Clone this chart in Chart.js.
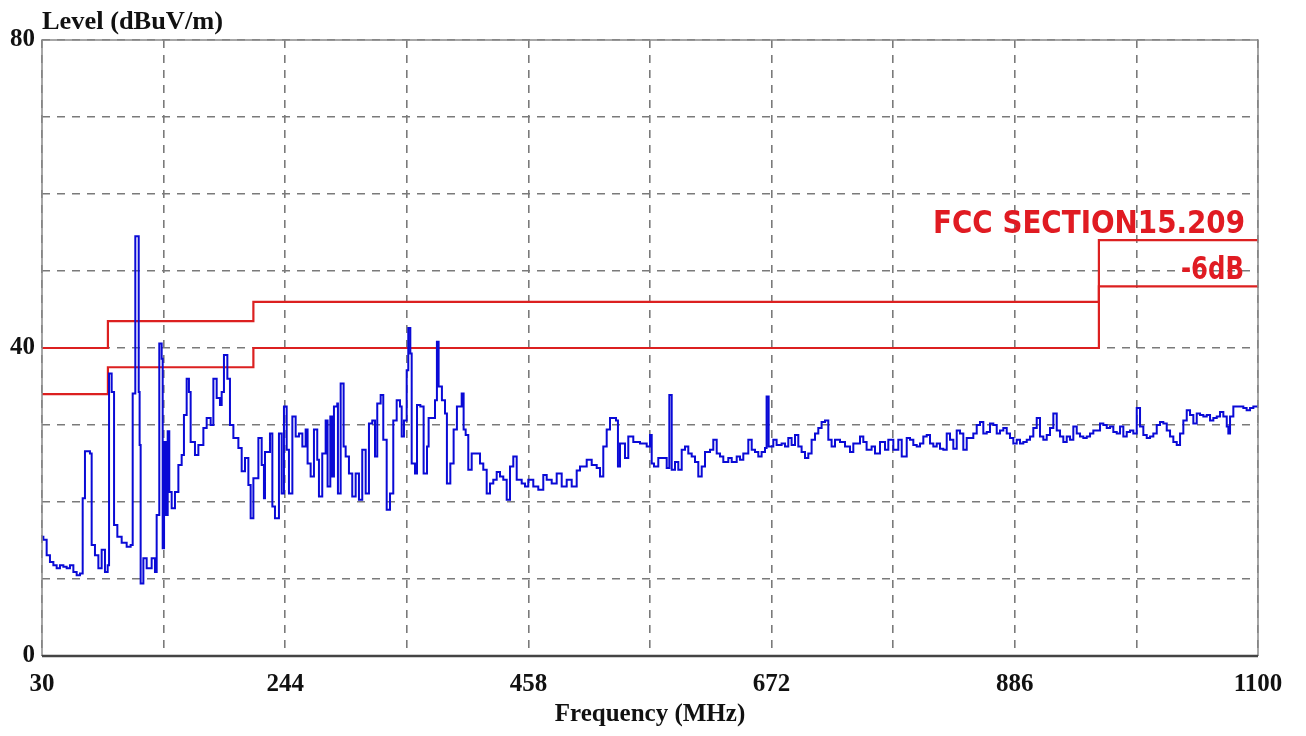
<!DOCTYPE html>
<html>
<head>
<meta charset="utf-8">
<script src="https://cdn.jsdelivr.net/npm/chart.js@4/dist/chart.umd.min.js"></script>
<style>
  html, body { margin: 0; padding: 0; background: #fff; }
  canvas { display: block; }
</style>
</head>
<body>
<canvas id="emc" width="1306" height="736"></canvas>
<script>
// measured trace, MHz / dBuV/m
var freqs = [
  30, 31.2, 34.1, 37.0, 40.0, 42.9, 45.8, 48.8, 51.7, 54.6, 57.6, 60.5, 63.4, 65.8, 67.8, 72.2,
  73.7, 76.6, 79.6, 82.5, 85.4, 87.8, 89.0, 91.3, 93.4, 96.3, 100.1, 104.5, 108.0, 109.8, 112.1,
  115.1, 115.9, 116.8, 119.2, 122.1, 126.5, 129.4, 130.9, 133.2, 135.3, 136.2, 137.4, 139.1, 140.6,
  142.0, 144.1, 147.0, 150.0, 152.9, 154.9, 157.3, 159.3, 160.8, 164.6, 167.6, 172.0, 174.9, 178.4,
  180.8, 183.7, 186.6, 188.1, 190.1, 193.1, 195.4, 198.4, 202.8, 205.7, 208.6, 211.6, 213.6, 216.0,
  220.4, 223.3, 225.3,
  226.2, 230.6, 232.7, 235.0, 238.5, 240.9, 242.9, 245.3, 247.3, 250.3, 253.2, 256.1, 259.1, 262.0,
  263.7, 266.4, 269.3, 272.2, 273.7, 276.6, 279.6, 281.3, 283.7, 285.4, 286.9, 289.8, 290.4, 292.8,
  295.4, 297.2, 300.1, 303.0, 306.0, 308.9, 311.8, 314.8, 317.7, 320.6, 323.0, 325.0, 328.0, 330.3,
  333.3, 336.2, 339.1, 342.1, 345.0, 346.5, 348.5, 350.9, 352.3, 354.1, 355.3, 358.2, 360.0, 362.9,
  365.8, 368.8, 370.2, 373.2, 375.8, 377.5, 379.0, 381.9, 384.6, 386.3, 389.3, 392.2, 395.1, 399.3,
  401.0, 402.8, 405.1, 408.1, 412.5, 415.4, 418.3, 421.3, 424.2, 427.1, 430.1, 433.0, 435.9, 438.9,
  441.8, 444.7,
  447.7, 452.1, 455.0, 457.9, 462.3, 466.7, 471.1, 474.1, 478.5, 482.9, 487.3, 491.7, 496.1, 500.5,
  503.4, 509.3, 513.7, 518.1, 521.0, 523.9, 526.9, 529.8, 535.1, 536.8, 538.6, 543.0, 545.9, 550.3,
  556.2, 562.1, 565.0, 566.5, 568.5, 572.3, 576.7, 579.7, 582.0, 584.1, 587.0, 589.9, 592.9, 595.8,
  598.7, 601.7, 604.6, 607.5, 610.5, 613.4, 617.8, 620.7, 623.7, 626.6, 629.5, 633.9, 636.9, 641.3,
  644.2, 647.1, 651.5, 654.5, 657.4, 660.3, 663.2, 666.2, 667.6, 669.4, 673.5, 676.4, 680.8, 683.8,
  686.7, 689.6, 692.6, 695.5, 698.4, 701.4, 704.3, 707.2, 710.2, 713.1, 716.0, 719.0, 721.9, 724.8,
  727.8, 732.2, 736.6, 741.0, 743.9, 749.8, 752.7, 755.6, 760.0, 763.0, 767.4, 771.8, 774.7,
  779.1, 783.5, 786.5, 790.9, 793.8, 796.7, 799.7, 802.6, 805.5, 808.5, 811.4, 814.3, 817.3, 820.2,
  823.1, 826.1, 829.0, 831.9, 834.9, 837.8, 840.7, 843.7, 846.6, 849.5, 852.5, 855.4, 858.3, 861.3,
  864.2, 867.1, 870.1, 873.0, 875.9, 878.9, 881.8, 884.7, 887.7, 890.6, 893.5, 896.5, 899.4, 902.3,
  905.3, 908.2, 911.1, 914.1, 917.0, 919.9, 922.9, 925.8, 928.7, 931.7, 934.6, 937.5, 940.5, 943.4,
  946.3, 949.3, 952.2, 955.1, 958.1, 961.0, 963.9, 966.9, 969.8, 972.7, 975.7, 978.6, 981.5, 984.5,
  987.4, 990.3, 993.3, 996.2, 999.1, 1002.1, 1005.0, 1007.9, 1010.9, 1013.8, 1016.7, 1019.7, 1022.6,
  1025.5, 1028.5, 1031.4, 1034.3, 1037.3, 1040.2, 1043.1, 1046.1, 1049.0, 1051.9, 1054.9, 1057.8,
  1060.7, 1063.7, 1066.6, 1069.5, 1072.5, 1073.9, 1075.4, 1078.3, 1081.2, 1084.2, 1087.1, 1090.0,
  1093.0, 1095.9, 1100
];
var levels = [
  15.5, 15.1, 13.1, 12.2, 11.8, 11.4, 11.8, 11.6, 11.4, 11.8, 10.9, 10.5, 10.7, 20.5, 26.6, 26.3,
  14.4, 13.1, 11.4, 13.8, 10.9, 11.8, 36.7, 34.3, 17.0, 15.5, 14.7, 14.2, 14.4, 34.1, 54.5,
  34.3, 27.4, 9.4, 12.7, 11.4, 12.7, 10.9, 18.3, 40.6, 38.6, 14.0, 27.8, 18.3, 29.2,
  21.3, 19.2, 21.3, 24.8, 26.1, 31.3, 36.0, 34.3, 27.8, 26.1, 27.4, 29.6, 30.9, 30.0,
  36.0, 33.5, 32.6, 34.3, 39.1, 36.0, 30.0, 28.3, 27.0, 24.0, 25.7, 22.2, 17.9, 23.1,
  28.3, 24.8, 20.5,
  26.5, 28.9, 19.4, 17.9, 28.9, 21.1, 32.4, 26.8, 21.1, 31.1, 28.5, 28.9, 27.2, 29.4,
  25.0, 23.3, 29.4, 25.5, 20.7, 26.3, 30.6, 22.0, 31.1, 23.3, 32.4, 32.8, 21.1, 35.4,
  27.2, 25.9, 23.7, 20.7, 23.7, 20.3, 26.8, 21.1, 30.2, 30.6, 25.9, 32.8, 33.9, 28.1,
  19.0, 21.1, 30.6, 33.2, 32.4, 28.5, 30.6, 37.1, 42.6, 39.3, 25.0, 23.7, 32.6, 32.4,
  23.7, 27.2, 30.9, 30.9, 33.2, 40.8, 35.0, 33.2, 31.5, 22.4, 25.0, 29.4, 32.4, 34.1,
  29.4, 28.7, 24.2, 26.3, 26.3, 25.0, 24.2, 21.1, 22.4, 22.9, 23.9, 23.3, 22.9, 20.3,
  24.6, 25.9,
  22.9, 22.4, 22.0, 22.9, 22.0, 21.6, 23.5, 22.9, 22.4, 23.7, 22.0, 22.9, 22.0, 24.1,
  24.6, 25.5, 24.8, 24.4, 23.3, 27.2, 29.4, 30.9, 30.6, 24.6, 27.6, 25.7, 28.5, 27.8,
  27.6, 27.2, 28.7, 25.0, 24.6, 25.7, 25.7, 24.4, 33.9, 24.2, 25.2, 24.2, 26.8, 27.2,
  26.3, 25.9, 25.2, 23.3, 24.6, 26.5, 26.8, 28.1, 26.3, 25.9, 25.2, 25.7, 25.2, 25.9,
  25.5, 26.3, 28.1, 26.8, 26.5, 25.9, 26.5, 27.0, 33.7, 27.2, 28.1, 27.4, 27.6, 27.2,
  28.3, 27.4, 28.7, 27.2, 26.5, 25.7, 26.3, 28.1, 28.9, 29.6, 30.4, 30.6, 28.1, 27.2,
  28.1, 27.8, 27.2, 26.5, 27.6, 28.5, 27.8, 26.8, 27.2, 26.3, 27.8, 26.8, 28.1,
  26.8, 28.1, 25.9, 28.3, 28.1, 27.4, 27.2, 27.6, 28.5, 28.7, 27.6, 27.2, 27.6, 26.9,
  26.8, 28.9, 28.1, 26.9, 29.3, 28.9, 26.8, 28.3, 28.3, 28.9, 30.0, 30.4, 28.9, 29.1,
  30.2, 30.0, 28.9, 29.3, 29.6, 28.9, 28.3, 27.6, 28.1, 27.6, 27.8, 28.1, 28.5, 29.6,
  30.9, 28.5, 28.1, 28.7, 29.6, 31.5, 29.3, 28.5, 27.8, 28.5, 28.1, 29.8, 28.9, 28.5,
  28.3, 28.5, 28.9, 29.3, 29.3, 30.2, 30.0, 29.6, 29.8, 29.1, 28.9, 29.8, 28.5, 29.1,
  29.3, 28.9, 32.2, 29.8, 28.7, 28.3, 28.5, 28.9, 30.0, 30.4, 30.2, 29.3, 28.5,
  27.8, 27.4, 28.9, 30.6, 31.9, 31.3, 30.2, 31.5, 31.3, 31.1, 31.3, 30.6,
  30.9, 31.1, 31.7, 31.1, 29.8, 28.9, 31.1, 32.4, 32.4, 32.4, 32.2, 31.9,
  32.2, 32.4, 32.6
];

// FCC 15.209 limit and the -6dB line (step edges)
var limitFreqs = [30, 88, 216, 960, 1100];
var fccLimit = [40, 43.5, 46, 54, 54];
var marginLimit = [34, 37.5, 40, 48, 48];

var xLabelTicks = [30, 244, 458, 672, 886, 1100];
var yLabelTicks = [0, 40, 80];

function pts(xs, ys) {
  return xs.map(function(x, i) { return { x: x, y: ys[i] }; });
}

var serif = '"Liberation Serif", "Times New Roman", serif';
var narrow = '"Liberation Sans Narrow", "DejaVu Sans Condensed", "Arial Narrow", sans-serif';

var frame = {
  id: 'frame',
  afterDatasetsDraw: function(chart) {
    var a = chart.chartArea, c = chart.ctx;
    c.save();
    c.strokeStyle = '#8a8a8a';
    c.lineWidth = 1.5;
    c.beginPath();
    c.moveTo(a.left, a.bottom);
    c.lineTo(a.left, a.top);
    c.lineTo(a.right, a.top);
    c.lineTo(a.right, a.bottom);
    c.stroke();
    c.strokeStyle = '#444';
    c.lineWidth = 2.5;
    c.beginPath();
    c.moveTo(a.left, a.bottom);
    c.lineTo(a.right, a.bottom);
    c.stroke();
    c.restore();
  },
  afterDraw: function(chart) {
    var c = chart.ctx;
    c.save();
    c.fillStyle = '#111';
    c.font = 'bold 25px ' + serif;
    c.textBaseline = 'alphabetic';
    fitText(c, 'Level (dBuV/m)', 223, 29, 181);

    // red limit captions, fitted to their width in the picture
    c.fillStyle = '#e01b22';
    c.font = 'bold 32px ' + narrow;
    fitText(c, 'FCC SECTION15.209', 1245, 233, 312);
    fitText(c, '-6dB', 1244, 279, 63);
    c.restore();
  }
};

function fitText(c, txt, right, base, w) {
  var m = c.measureText(txt).width;
  c.save();
  c.translate(right - w, base);
  c.scale(w / m, 1);
  c.fillText(txt, 0, 0);
  c.restore();
}

new Chart(document.getElementById('emc'), {
  type: 'line',
  data: {
    datasets: [
      {
        data: pts(freqs, levels),
        borderColor: '#0a0ad6',
        borderWidth: 2,
        pointRadius: 0,
        stepped: 'before',
        fill: false
      },
      {
        data: pts(limitFreqs, fccLimit),
        borderColor: '#dc2020',
        borderWidth: 2.2,
        pointRadius: 0,
        stepped: 'before'
      },
      {
        data: pts(limitFreqs, marginLimit),
        borderColor: '#dc2020',
        borderWidth: 2.2,
        pointRadius: 0,
        stepped: 'before'
      }
    ]
  },
  options: {
    responsive: false,
    animation: false,
    devicePixelRatio: 1,
    layout: { padding: { top: 40, right: 48, left: 0, bottom: 0 } },
    plugins: { legend: { display: false }, tooltip: { enabled: false } },
    scales: {
      x: {
        type: 'linear',
        min: 30,
        max: 1100,
        afterFit: function(s) { s.height = 80; },
        afterBuildTicks: function(s) {
          var t = [];
          for (var v = 30; v <= 1100; v += 107) t.push({ value: v });
          s.ticks = t;
        },
        ticks: {
          autoSkip: false,
          maxRotation: 0,
          padding: 14,
          color: '#111',
          font: { family: serif, size: 25, weight: 'bold' },
          callback: function(v) { return xLabelTicks.indexOf(v) >= 0 ? String(v) : ''; }
        },
        grid: { color: '#7a7a7a', lineWidth: 1.6, drawTicks: false },
        border: { display: false, dash: [8, 7] },
        title: {
          display: true,
          text: 'Frequency (MHz)',
          color: '#111',
          font: { family: serif, size: 25, weight: 'bold' },
          padding: { top: 0, bottom: 6 }
        }
      },
      y: {
        min: 0,
        max: 80,
        afterFit: function(s) { s.width = 42; },
        ticks: {
          stepSize: 10,
          padding: 7,
          color: '#111',
          font: { family: serif, size: 25, weight: 'bold' },
          callback: function(v) { return yLabelTicks.indexOf(v) >= 0 ? String(v) : ''; }
        },
        grid: { color: '#7a7a7a', lineWidth: 1.6, drawTicks: false },
        border: { display: false, dash: [8, 7] }
      }
    }
  },
  plugins: [frame]
});
</script>
</body>
</html>
